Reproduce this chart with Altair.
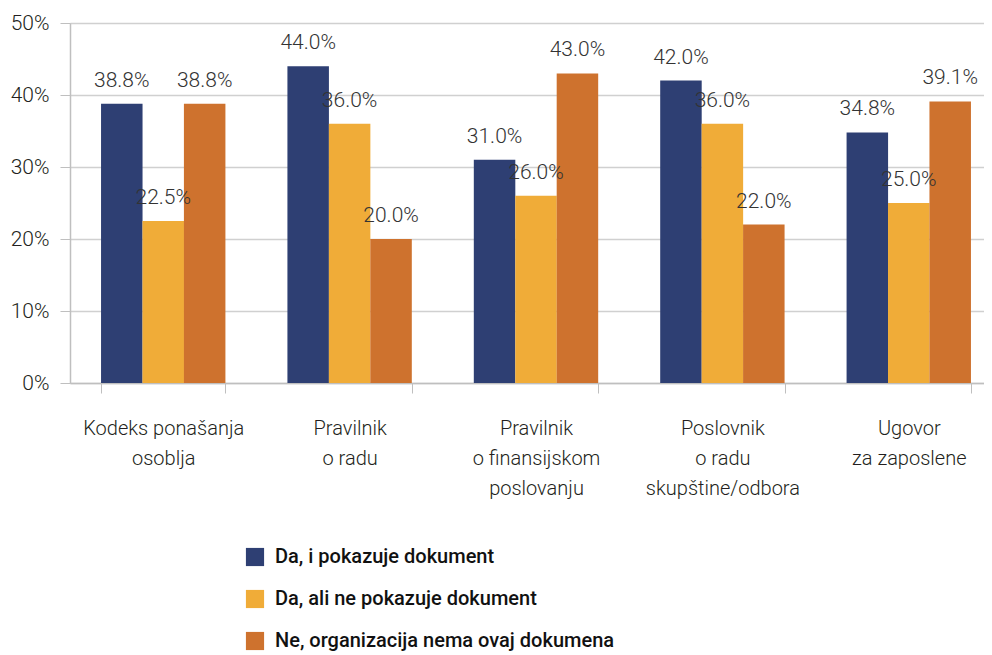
import altair as alt
import pandas as pd

categories = [
    "Kodeks ponašanja|osoblja",
    "Pravilnik|o radu",
    "Pravilnik|o finansijskom|poslovanju",
    "Poslovnik|o radu|skupštine/odbora",
    "Ugovor|za zaposlene",
]
series = [
    "Da, i pokazuje dokument",
    "Da, ali ne pokazuje dokument",
    "Ne, organizacija nema ovaj dokumena",
]
da_pokazuje = [38.8, 44.0, 31.0, 42.0, 34.8]
da_ne_pokazuje = [22.5, 36.0, 26.0, 36.0, 25.0]
nema = [38.8, 20.0, 43.0, 22.0, 39.1]
colors = ["#2E3F73", "#F0AC38", "#CE722E"]

rows = []
for vals, s in zip([da_pokazuje, da_ne_pokazuje, nema], series):
    for c, v in zip(categories, vals):
        rows.append({"cat": c, "series": s, "value": v / 100.0})
df = pd.DataFrame(rows)

FONT = "Roboto"

x = alt.X(
    "cat:N",
    sort=categories,
    scale=alt.Scale(paddingInner=0.333, paddingOuter=0.1667),
    axis=alt.Axis(
        title=None,
        labelExpr="split(datum.label, '|')",
        labelAngle=0,
        labelFontSize=20,
        labelFont=FONT,
        labelFontWeight=300,
        labelColor="#231F20",
        labelLineHeight=30,
        labelPadding=25,
        tickBand="extent",
        tickSize=10,
        tickColor="#BFBFBF",
        domainColor="#BFBFBF",
        domainWidth=1.5,
        grid=False,
    ),
)
xo = alt.XOffset("series:N", sort=series, scale=alt.Scale(paddingInner=0, paddingOuter=0))
y = alt.Y(
    "value:Q",
    scale=alt.Scale(domain=[0, 0.5]),
    axis=alt.Axis(
        title=None,
        format=".0%",
        values=[0, 0.1, 0.2, 0.3, 0.4, 0.5],
        labelFontSize=21,
        labelFont=FONT,
        labelFontWeight=300,
        labelColor="#231F20",
        labelPadding=11,
        tickSize=10,
        tickColor="#BFBFBF",
        domainColor="#BFBFBF",
        domainWidth=1.5,
        gridColor="#D0D0D0",
        gridWidth=1.5,
    ),
)

bars = alt.Chart(df).mark_bar(size=41.5).encode(
    x=x,
    xOffset=xo,
    y=y,
    color=alt.Color(
        "series:N",
        sort=series,
        scale=alt.Scale(domain=series, range=colors),
        legend=alt.Legend(
            title=None,
            orient="none",
            legendX=175,
            legendY=524,
            direction="vertical",
            symbolType="square",
            symbolSize=330,
            symbolStrokeWidth=0,
            labelFontSize=20,
            labelFont=FONT,
            labelFontWeight=500,
            labelColor="#111111",
            labelLimit=0,
            rowPadding=22,
            labelOffset=10,
        ),
    ),
)

labels = alt.Chart(df).mark_text(
    fontSize=21, font=FONT, fontWeight=300, color="#333333", baseline="alphabetic", dy=-17
).encode(
    x=alt.X("cat:N", sort=categories),
    xOffset=alt.XOffset("series:N", sort=series),
    y=alt.Y("value:Q"),
    text=alt.Text("value:Q", format=".1%"),
)

chart = (
    alt.layer(bars, labels)
    .properties(
        width=932,
        height=360,
        autosize=alt.AutoSizeParams(type="none"),
        padding={"left": 62, "top": 15, "right": -18, "bottom": 280},
    )
    .configure_view(stroke=None)
    .configure(background="white")
)

chart.save("out.html", embed_options={"renderer": "svg", "actions": False})
